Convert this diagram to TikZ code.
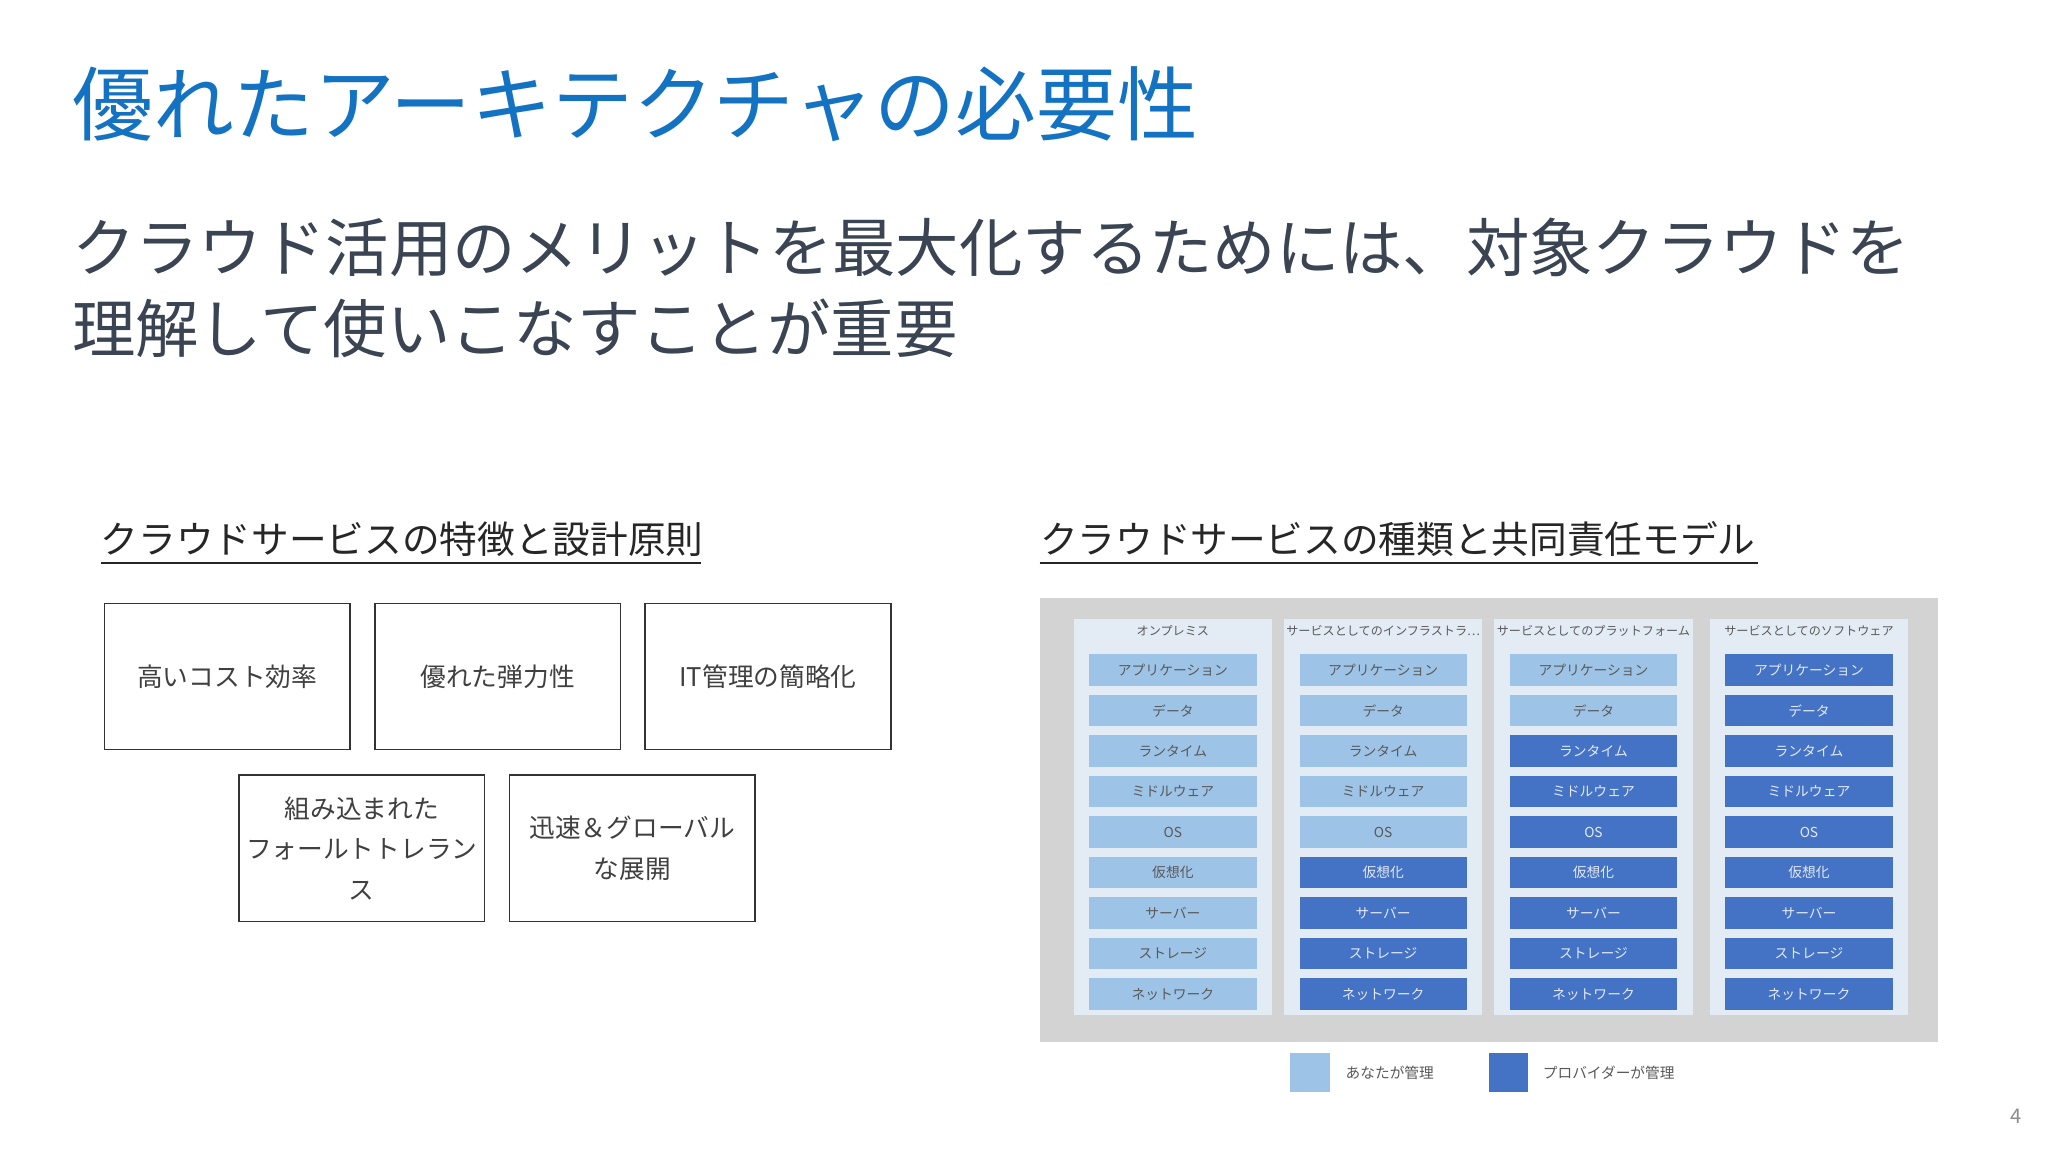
\documentclass[tikz,border=0pt]{standalone}
\usepackage{fontspec}
\setmainfont{Noto Sans CJK JP}
\begin{document}
\begin{tikzpicture}[x=0.025cm,y=-0.025cm,
  txt/.style={inner sep=0pt,anchor=base west},
  featbox/.style={draw=black!80,line width=0.8pt,minimum width=4.7cm,minimum height=2.8cm,align=center,font=\fontsize{14}{22}\selectfont,text=black!75},
  cellL/.style={fill=lightc,minimum width=3.2cm,minimum height=0.6cm,inner sep=0pt,font=\fontsize{7.5}{8}\selectfont,text=black!65},
  cellD/.style={fill=darkc,minimum width=3.2cm,minimum height=0.6cm,inner sep=0pt,font=\fontsize{7.5}{8}\selectfont,text=white!85!darkc},
  hdr/.style={inner sep=0pt,font=\fontsize{6.6}{8}\selectfont,text=black!65}]
\definecolor{titleblue}{HTML}{1472C2}
\definecolor{subgray}{HTML}{3A4452}
\definecolor{lightc}{HTML}{9DC3E6}
\definecolor{darkc}{HTML}{4472C4}
\definecolor{panel}{HTML}{E3EBF4}
\definecolor{bggray}{HTML}{D3D3D3}
\fill[white] (0,0) rectangle (1568,882);
\useasboundingbox (0,0) rectangle (1568,882);
\node[txt,text=titleblue,font=\fontsize{44}{50}\selectfont] (title) at (55,103) {優れたアーキテクチャの必要性};
\node[txt,text=subgray,font=\fontsize{34.5}{44}\selectfont] (sub1) at (55,208) {クラウド活用のメリットを最大化するためには、対象クラウドを};
\node[txt,text=subgray,font=\fontsize{34.5}{44}\selectfont] (sub2) at (55,270) {理解して使いこなすことが重要};
\node[txt,text=black!85,font=\fontsize{20.5}{24}\selectfont] (h1) at (77,424) {クラウドサービスの特徴と設計原則};
\draw[black!85,line width=0.8pt] (77,431) -- (537,431);
\node[txt,text=black!85,font=\fontsize{20.5}{24}\selectfont] (h2) at (796,424) {クラウドサービスの種類と共同責任モデル};
\draw[black!85,line width=0.8pt] (796,431) -- (1346,431);
\node[featbox] (f1) at (174,518) {高いコスト効率};
\node[featbox] (f2) at (381,518) {優れた弾力性};
\node[featbox] (f3) at (588,518) {IT管理の簡略化};
\node[featbox] (f4) at (277,649.5) {組み込まれた\\フォールトトレラン\\ス};
\node[featbox] (f5) at (484,649.5) {迅速＆グローバル\\な展開};
\fill[bggray] (796,458) rectangle (1484,798);
\foreach \x/\h [count=\i] in {898/オンプレミス,1059/サービスとしてのインフラストラ…,1220/サービスとしてのプラットフォーム,1385/サービスとしてのソフトウェア}{
  \fill[panel] (\x-76,474) rectangle (\x+76,777);
  \node[hdr] (hd\i) at (\x,483) {\h};
}
\foreach \t [count=\r] in {アプリケーション,データ,ランタイム,ミドルウェア,OS,仮想化,サーバー,ストレージ,ネットワーク}{
  \pgfmathsetmacro{\yy}{513+31*(\r-1)}
  \node[cellL] (c1-\r) at (898,\yy) {\t};
  \ifnum\r<6 \node[cellL] (c2-\r) at (1059,\yy) {\t}; \else \node[cellD] (c2-\r) at (1059,\yy) {\t}; \fi
  \ifnum\r<3 \node[cellL] (c3-\r) at (1220,\yy) {\t}; \else \node[cellD] (c3-\r) at (1220,\yy) {\t}; \fi
  \node[cellD] (c4-\r) at (1385,\yy) {\t};
}
\fill[lightc] (988,806) rectangle (1018,836);
\node[txt,font=\fontsize{8}{9}\selectfont,text=black!65] (l1) at (1030,826) {あなたが管理};
\fill[darkc] (1140,806) rectangle (1170,836);
\node[txt,font=\fontsize{8}{9}\selectfont,text=black!65] (l2) at (1181,826) {プロバイダーが管理};
\node[txt,font=\fontsize{11}{12}\selectfont,text=black!45] (pg) at (1539,860) {4};
\end{tikzpicture}
\end{document}
